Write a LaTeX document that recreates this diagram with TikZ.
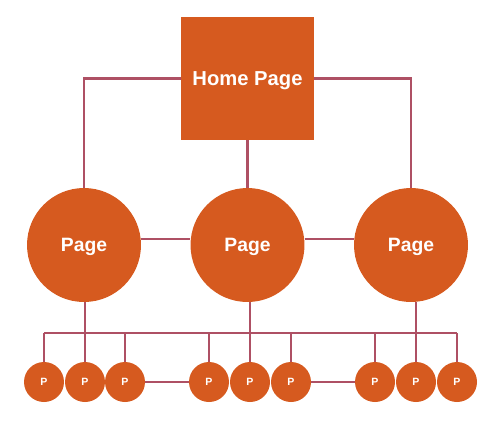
\documentclass[tikz,border=0pt]{standalone}
\usepackage{xcolor}
\usepackage{fontspec}
\usepackage{tikz}
\newfontfamily\labelfont{Liberation Sans}
\definecolor{pageorange}{RGB}{214,90,31}
\definecolor{linkred}{RGB}{174,80,100}
\tikzset{
  homebox/.style={rectangle,fill=pageorange,text=white,text depth=0pt,minimum width=2.66cm,minimum height=2.46cm,font=\labelfont\bfseries\fontsize{11.5}{13}\selectfont},
  pagecircle/.style={circle,fill=pageorange,text=white,text depth=0pt,minimum size=2.28cm,inner sep=0pt,font=\labelfont\bfseries\fontsize{11}{13}\selectfont},
  pnode/.style={circle,fill=pageorange,text=white,text depth=0pt,minimum size=0.8cm,inner sep=0pt,font=\labelfont\bfseries\fontsize{6}{7}\selectfont},
  link/.style={draw=linkred,line width=1.3pt}
}
\begin{document}
\begin{tikzpicture}[x=0.02cm,y=-0.02cm]
    \useasboundingbox (0,0) rectangle (503,420);
    % Home page
    \node[homebox] (home) at (247.5,78.5) {Home Page};
    % Pages
    \node[pagecircle] (p1) at (84,245) {Page};
    \node[pagecircle] (p2) at (247.5,245) {Page};
    \node[pagecircle] (p3) at (411,245) {Page};
    % Sub pages
    \foreach \x [count=\i] in {44,85,125,209,250,291,375,416,457}
        \node[pnode] (s\i) at (\x,382) {P};
    \coordinate (bus) at (0,333);
    % Links
    \draw[link] (home.west) -| (p1.north);
    \draw[link] (home.south) -- (p2.north);
    \draw[link] (home.east) -| (p3.north);
    \draw[link] (p1.6) -- (p2.174);
    \draw[link] (p2.6) -- (p3.174);
    \draw[link] (s1.north |- bus) -- (s9.north |- bus);
    \foreach \i in {1,3,4,6,7,9}
        \draw[link] (s\i.north) -- (s\i.north |- bus);
    \draw[link] (s2.north) -- (s2.north |- p1.south);
    \draw[link] (s5.north) -- (s5.north |- p2.south);
    \draw[link] (s8.north) -- (s8.north |- p3.south);
    \draw[link] (s3) -- (s4);
    \draw[link] (s6) -- (s7);
\end{tikzpicture}
\end{document}
